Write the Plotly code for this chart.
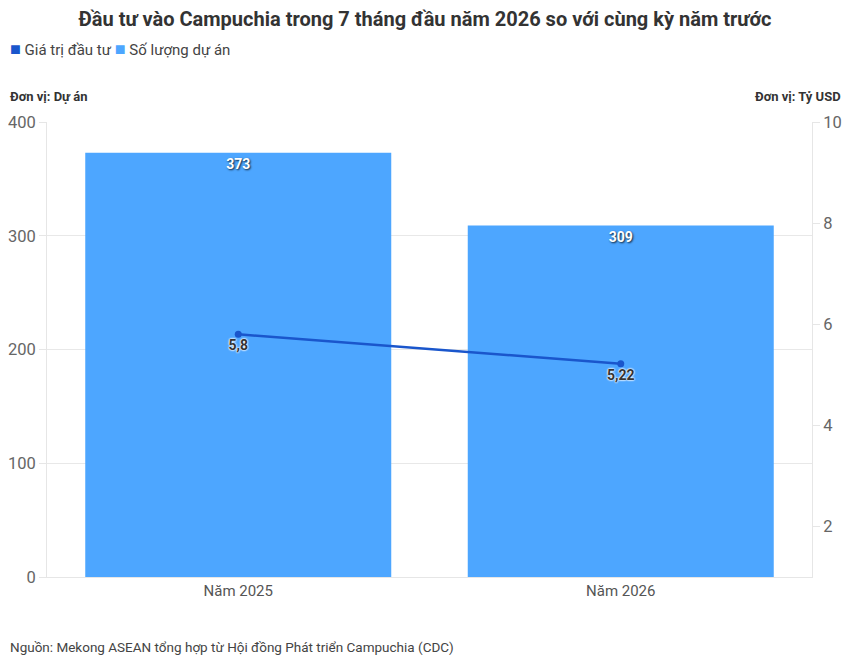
import plotly.graph_objects as go

categories = ["Năm 2025", "Năm 2026"]
so_luong_du_an = [373, 309]
gia_tri_dau_tu = [5.8, 5.22]
left_ticks = [0, 100, 200, 300, 400]
right_ticks = [2, 4, 6, 8, 10]

BAR_COLOR = "#4da6ff"
LINE_COLOR = "#1a56cc"
FONT = "Roboto"
OFF = 8  # page body margin
W, H = 850 - OFF, 664 - OFF
L, R, T, B = 47 - OFF, 38, 122 - OFF, 87
PW, PH = W - L - R, H - T - B


def px_x(x):
    return (x - OFF - L) / PW


def px_y(y):
    return (H - B - (y - OFF)) / PH


fig = go.Figure()

fig.add_trace(go.Bar(
    x=categories, y=so_luong_du_an, name="Số lượng dự án",
    marker=dict(color=BAR_COLOR, line=dict(width=0)),
    texttemplate="%{y}", textposition="inside", insidetextanchor="end",
    textfont=dict(family=FONT, size=14, color="white", weight="bold",
                  shadow="1px 1px 2px rgba(0,0,0,0.8)"),
    showlegend=False, yaxis="y", hoverinfo="skip",
))

fig.add_trace(go.Scatter(
    x=categories, y=gia_tri_dau_tu, name="Giá trị đầu tư",
    mode="lines+markers+text",
    line=dict(color=LINE_COLOR, width=2.5),
    marker=dict(color=LINE_COLOR, size=7),
    texttemplate="%{y:.2~f}", textposition="bottom center",
    textfont=dict(family=FONT, size=14, color="#333333", weight="bold",
                  shadow="0px 0px 2px white, 0px 0px 2px white, 0px 0px 2px white"),
    showlegend=False, yaxis="y2", hoverinfo="skip",
))

legend_text = (
    f"<span style='color:{LINE_COLOR}; font-size:18px'>■</span> Giá trị đầu tư "
    f"<span style='color:{BAR_COLOR}; font-size:18px'>■</span> Số lượng dự án"
)

fig.update_layout(
    width=W, height=H,
    margin=dict(l=L, r=R, t=T, b=B, autoexpand=False),
    paper_bgcolor="white", plot_bgcolor="white",
    separators=",.",
    bargap=0.2,
    showlegend=False,
    font=dict(family=FONT, color="#555555"),
    title=dict(text="<b>Đầu tư vào Campuchia trong 7 tháng đầu năm 2026 so với cùng kỳ năm trước</b>",
               x=px_x(425), xanchor="center", xref="paper",
               y=1, yanchor="top", yref="container", pad=dict(t=4),
               font=dict(family=FONT, size=20, color="#333333")),
    xaxis=dict(showgrid=False, showline=True, linecolor="#e6e6e6", linewidth=1,
               ticks="", tickfont=dict(family=FONT, size=15, color="#555555"),
               zeroline=False, automargin=False),
    yaxis=dict(range=[0, 400], tickvals=left_ticks, showgrid=True, gridcolor="#e8e8e8",
               showline=True, linecolor="#e6e6e6", ticks="outside", ticklen=7,
               tickcolor="#e6e6e6", tickfont=dict(family=FONT, size=16.5, color="#666666"),
               zeroline=False, automargin=False),
    yaxis2=dict(range=[1, 10], tickvals=right_ticks, overlaying="y", side="right",
                showgrid=False, showline=True, linecolor="#e6e6e6", ticks="outside",
                ticklen=7, tickcolor="#e6e6e6",
                tickfont=dict(family=FONT, size=16.5, color="#666666"), zeroline=False,
                automargin=False),
    annotations=[
        dict(text=legend_text, xref="paper", yref="paper",
             x=px_x(OFF), y=px_y(49), xanchor="left", yanchor="middle", showarrow=False,
             font=dict(family=FONT, size=15, color="#444444")),
        dict(text="<b>Đơn vị: Dự án</b>", xref="paper", yref="paper",
             x=px_x(OFF), y=px_y(97),
             xanchor="left", yanchor="middle", showarrow=False,
             font=dict(family=FONT, size=13, color="#333333")),
        dict(text="<b>Đơn vị: Tỷ USD</b>", xref="paper", yref="paper",
             x=px_x(843), y=px_y(97),
             xanchor="right", yanchor="middle", showarrow=False,
             font=dict(family=FONT, size=13, color="#333333")),
        dict(text="Nguồn: Mekong ASEAN tổng hợp từ Hội đồng Phát triển Campuchia (CDC)",
             xref="paper", yref="paper",
             x=px_x(OFF), y=px_y(647),
             xanchor="left", yanchor="middle", showarrow=False,
             font=dict(family=FONT, size=13.5, color="#444444")),
    ],
)

fig.write_html("out.html")
